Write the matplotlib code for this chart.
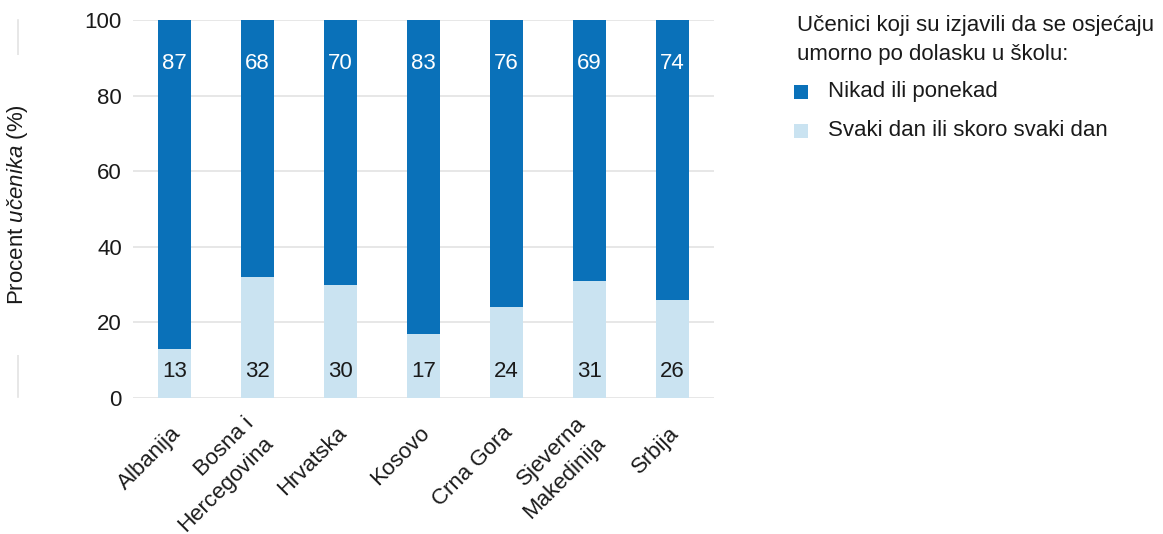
import matplotlib.pyplot as plt
import matplotlib.transforms as mtransforms
import numpy as np

plt.rcParams['font.family'] = ['Liberation Sans', 'DejaVu Sans']
plt.rcParams['mathtext.fontset'] = 'custom'
plt.rcParams['mathtext.rm'] = 'Liberation Sans'
plt.rcParams['mathtext.it'] = 'Liberation Sans:italic'

countries = ['Albanija', 'Bosna i\nHercegovina', 'Hrvatska', 'Kosovo',
             'Crna Gora', 'Sjeverna\nMakedinija', 'Srbija']
daily = [13, 32, 30, 17, 24, 31, 26]
never = [87, 68, 70, 83, 76, 69, 74]

dark = '#0a71b9'
light = '#cae3f1'
grid = '#e3e3e3'
txt = '#1a1a1a'
fs = 16

W, H = 1163, 534
fig = plt.figure(figsize=(W / 100, H / 100), dpi=100)
ax = fig.add_axes([133 / W, (H - 398) / H, 581 / W, 378 / H])

x = np.arange(len(countries))
ax.bar(x, daily, width=0.4, color=light, zorder=2)
ax.bar(x, never, width=0.4, bottom=daily, color=dark, zorder=2)

for i in range(len(x)):
    ax.text(x[i], 7, str(daily[i]), ha='center', va='center', fontsize=fs, color=txt, zorder=3)
    ax.text(x[i], 88.6, str(never[i]), ha='center', va='center', fontsize=fs, color='white', zorder=3)

ax.set_xlim(-0.5, 6.5)
ax.set_ylim(0, 100)
ax.set_yticks([0, 20, 40, 60, 80, 100])
ax.yaxis.grid(True, color=grid, linewidth=1.2, zorder=0)
ax.set_axisbelow(True)
for s in ax.spines.values():
    s.set_visible(False)
ax.tick_params(axis='both', length=0, labelsize=fs, colors=txt)
ax.tick_params(axis='y', pad=8)
ax.set_xticks(x)
ax.set_xticklabels(countries, rotation=45, ha='right', va='center',
                   rotation_mode='anchor', linespacing=1.4)
ax.tick_params(axis='x', pad=23)
shift = mtransforms.ScaledTranslation(3 / 100, 0, fig.dpi_scale_trans)
for lab in ax.get_xticklabels():
    lab.set_transform(lab.get_transform() + shift)

# left vertical rule behind the y label
fig.add_artist(plt.Line2D([18 / W, 18 / W], [(H - 397) / H, (H - 20) / H],
                          color=grid, linewidth=1.2))
fig.text(18 / W, 1 - 205 / H, r'Procent $\mathit{učenika}$ (%)', rotation=90,
         ha='center', va='center', fontsize=fs, color=txt,
         bbox=dict(facecolor='white', edgecolor='none', pad=36))

# legend
fig.text(797 / W, 1 - 40 / H, 'Učenici koji su izjavili da se osjećaju\numorno po dolasku u školu:',
         ha='left', va='center', fontsize=fs, color=txt, linespacing=1.5)
fig.patches.append(plt.Rectangle((794 / W, 1 - 99 / H), 14 / W, 14 / H,
                                 transform=fig.transFigure, facecolor=dark, edgecolor='none'))
fig.patches.append(plt.Rectangle((794 / W, 1 - 138 / H), 14 / W, 14 / H,
                                 transform=fig.transFigure, facecolor=light, edgecolor='none'))
fig.text(828 / W, 1 - 92 / H, 'Nikad ili ponekad', ha='left', va='center',
         fontsize=fs, color=txt)
fig.text(828 / W, 1 - 131 / H, 'Svaki dan ili skoro svaki dan', ha='left', va='center',
         fontsize=fs, color=txt)

fig.savefig('out.png', dpi=100)
